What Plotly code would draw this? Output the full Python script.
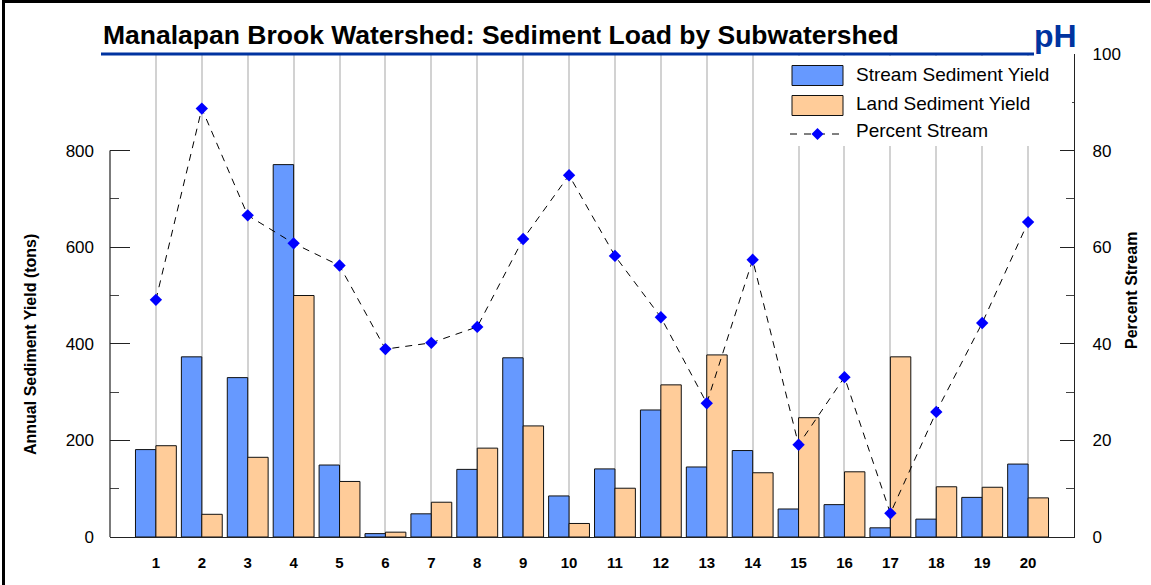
import plotly.graph_objects as go

subwatersheds = list(range(1, 21))
tick_labels = [str(i) for i in subwatersheds]
stream_yield = [181, 373, 330, 771, 149, 7, 48, 140, 371, 85, 141, 263, 145, 179, 58, 67, 19, 37, 82, 151]
land_yield = [189, 47, 165, 500, 115, 10, 72, 184, 230, 28, 101, 315, 377, 133, 247, 135, 373, 104, 103, 81]
percent_stream = [49.1, 88.7, 66.6, 60.8, 56.2, 38.9, 40.2, 43.5, 61.7, 74.9, 58.2, 45.5, 27.7, 57.4, 19.1, 33.1, 4.9, 25.9, 44.3, 65.2]
left_ticks = [0, 200, 400, 600, 800]
left_minor = [100, 300, 500, 700]
right_ticks = [0, 20, 40, 60, 80, 100]

W, H = 1151, 585
L, R, T, B = 110, 1074, 54, 537
PW, PH = R - L, B - T


def px(x):
    return (x - L) / PW


def py(y):
    return (B - y) / PH


BLUE = "#6699ff"
ORANGE = "#ffcc99"
DARKBLUE = "#0033a0"
FONT = "Liberation Sans, Arial, sans-serif"

fig = go.Figure()
fig.add_trace(go.Bar(x=subwatersheds, y=stream_yield, name="Stream Sediment Yield",
                     marker=dict(color=BLUE, line=dict(color="#111111", width=1)), showlegend=False))
fig.add_trace(go.Bar(x=subwatersheds, y=land_yield, name="Land Sediment Yield",
                     marker=dict(color=ORANGE, line=dict(color="#111111", width=1)), showlegend=False))
fig.add_trace(go.Scatter(x=subwatersheds, y=percent_stream, name="Percent Stream", yaxis="y2",
                         mode="lines+markers",
                         line=dict(color="black", width=1, dash="7px,6px"),
                         marker=dict(symbol="diamond", size=9.5, color="#0000ff"),
                         showlegend=False))

shapes = []
annotations = []

# outer frame (top & left visible) drawn as one open path
frame = "M {} {} L {} {} L {} {}".format(px(3.5), py(H + 5), px(3.5), py(1.5), px(W - 1), py(1.5))
shapes.append(dict(type="path", xref="paper", yref="paper", path=frame,
                   line=dict(color="black", width=3), layer="above"))
# title underline
shapes.append(dict(type="line", xref="paper", yref="paper", x0=px(101), x1=px(1034), y0=py(54), y1=py(54),
                   line=dict(color=DARKBLUE, width=3), layer="above"))
# left axis line (0..800 only)
shapes.append(dict(type="line", xref="paper", yref="y", x0=0, x1=0, y0=left_ticks[0], y1=left_ticks[-1],
                   line=dict(color="#222222", width=1.2), layer="above"))

# legend background
shapes.append(dict(type="rect", xref="paper", yref="paper", x0=px(780), x1=px(1072), y0=py(146), y1=py(56),
                   fillcolor="white", line=dict(width=0), layer="above"))
# legend swatches
shapes.append(dict(type="rect", xref="paper", yref="paper", x0=px(792), x1=px(843), y0=py(85.5), y1=py(65.5),
                   fillcolor=BLUE, line=dict(color="#111111", width=1), layer="above"))
shapes.append(dict(type="rect", xref="paper", yref="paper", x0=px(792), x1=px(843), y0=py(115.5), y1=py(95.5),
                   fillcolor=ORANGE, line=dict(color="#111111", width=1), layer="above"))
shapes.append(dict(type="line", xref="paper", yref="paper", x0=px(790), x1=px(844), y0=py(134), y1=py(134),
                   line=dict(color="black", width=1, dash="7px,7px"), layer="above"))
cx, cy, r = 817.5, 134, 6
path = "M {} {} L {} {} L {} {} L {} {} Z".format(px(cx - r), py(cy), px(cx), py(cy - r), px(cx + r), py(cy), px(cx), py(cy + r))
shapes.append(dict(type="path", xref="paper", yref="paper", path=path, fillcolor="#0000ff",
                   line=dict(width=0), layer="above"))

legend_items = [("Stream Sediment Yield", 75), ("Land Sediment Yield", 103), ("Percent Stream", 130)]
for txt, yy in legend_items:
    annotations.append(dict(text=txt, xref="paper", yref="paper", x=px(854), y=py(yy), xanchor="left",
                            yanchor="middle", showarrow=False, font=dict(family=FONT, size=19, color="black")))

# title
annotations.append(dict(text="<b>Manalapan Brook Watershed: Sediment Load by Subwatershed</b>", xref="paper", yref="paper",
                        x=px(101), y=py(35), xanchor="left", yanchor="middle", showarrow=False,
                        font=dict(family=FONT, size=26.5, color="black")))
# logo
annotations.append(dict(text="<b>pH</b>", xref="paper", yref="paper", x=px(1055.5), y=py(36), xanchor="center",
                        yanchor="middle", showarrow=False,
                        font=dict(family=FONT, size=32, color=DARKBLUE)))
# axis titles
annotations.append(dict(text="<b>Annual Sediment Yield (tons)</b>", xref="paper", yref="paper", x=px(30), y=py(345),
                        xanchor="center", yanchor="middle", textangle=-90, showarrow=False,
                        font=dict(family=FONT, size=16, color="black")))
annotations.append(dict(text="<b>Percent Stream</b>", xref="paper", yref="paper", x=px(1131), y=py(291),
                        xanchor="center", yanchor="middle", textangle=-90, showarrow=False,
                        font=dict(family=FONT, size=16, color="black")))

fig.update_layout(
    width=W, height=H,
    margin=dict(l=L, r=W - R, t=T, b=H - B, pad=0),
    paper_bgcolor="white", plot_bgcolor="white",
    barmode="group", bargap=0.11, bargroupgap=0,
    font=dict(family=FONT, color="black"),
    shapes=shapes, annotations=annotations,
    xaxis=dict(range=[0, 21], tickvals=subwatersheds, ticktext=tick_labels, showgrid=True,
               gridcolor="#d2d2d2", gridwidth=2, showline=True, linecolor="#222222", linewidth=1.2,
               ticks="", zeroline=False, tickfont=dict(family=FONT, size=15, weight="bold"),
               ticklabelstandoff=12),
    yaxis=dict(range=[0, 1000], tickvals=left_ticks, showgrid=False, zeroline=False, showline=False,
               ticks="inside", ticklen=20, tickcolor="#222222", tickwidth=1.2,
               minor=dict(tickvals=left_minor, ticks="inside", ticklen=9, tickcolor="#444444", tickwidth=1.2),
               tickfont=dict(family=FONT, size=17), ticklabelstandoff=15),
    yaxis2=dict(range=[0, 100], tickvals=right_ticks, overlaying="y", side="right", showgrid=False,
                zeroline=False, showline=True, linecolor="#222222", linewidth=1.2,
                ticks="inside", ticklen=14, tickcolor="#222222", tickwidth=1.2,
                minor=dict(dtick=10, ticks="inside", ticklen=8, tickcolor="#444444", tickwidth=1.2),
                tickfont=dict(family=FONT, size=17), ticklabelstandoff=14),
)

fig.write_html("out.html", config={"displayModeBar": False},
               post_script="document.body.style.margin='0';document.body.style.overflow='hidden';"
                           "document.documentElement.style.overflow='hidden';")
